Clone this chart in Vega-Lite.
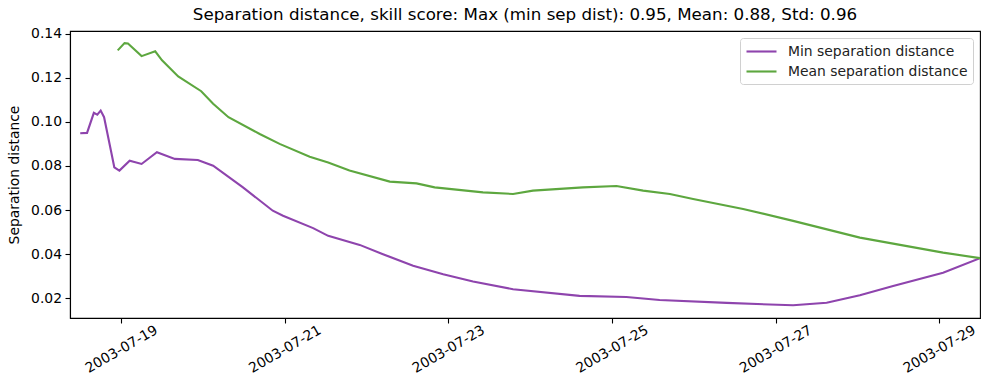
{
  "$schema": "https://vega.github.io/schema/vega-lite/v6.json",
  "autosize": "none",
  "width": 910,
  "height": 287,
  "padding": {"left": 70, "top": 31, "right": 9, "bottom": 72},
  "background": "white",
  "config": {
    "font": "DejaVu Sans",
    "view": {"stroke": "black", "strokeWidth": 1.1},
    "axis": {"grid": false, "domainColor": "black", "tickColor": "black", "labelColor": "black", "titleColor": "black", "labelFont": "DejaVu Sans", "titleFont": "DejaVu Sans", "labelFontSize": 13.9, "titleFontSize": 13.9, "titleFontWeight": "normal", "tickSize": 5, "tickWidth": 1.1, "domainWidth": 1.1}
  },
  "title": {"text": "Separation distance, skill score: Max (min sep dist): 0.95, Mean: 0.88, Std: 0.96", "font": "DejaVu Sans", "fontSize": 16.7, "fontWeight": "normal", "color": "black", "anchor": "middle", "frame": "group", "baseline": "alphabetic", "offset": 10, "dy": 20},
  "datasets": {
    "series": [
      {"series": "Min separation distance", "time": "2003-07-18T12:00:00Z", "value": 0.0948},
      {"series": "Min separation distance", "time": "2003-07-18T14:00:00Z", "value": 0.0950},
      {"series": "Min separation distance", "time": "2003-07-18T16:00:00Z", "value": 0.1041},
      {"series": "Min separation distance", "time": "2003-07-18T17:00:00Z", "value": 0.1033},
      {"series": "Min separation distance", "time": "2003-07-18T18:00:00Z", "value": 0.1051},
      {"series": "Min separation distance", "time": "2003-07-18T19:00:00Z", "value": 0.1021},
      {"series": "Min separation distance", "time": "2003-07-18T21:00:00Z", "value": 0.0870},
      {"series": "Min separation distance", "time": "2003-07-18T22:00:00Z", "value": 0.0794},
      {"series": "Min separation distance", "time": "2003-07-18T23:30:00Z", "value": 0.0779},
      {"series": "Min separation distance", "time": "2003-07-19T02:30:00Z", "value": 0.0824},
      {"series": "Min separation distance", "time": "2003-07-19T06:00:00Z", "value": 0.0809},
      {"series": "Min separation distance", "time": "2003-07-19T10:30:00Z", "value": 0.0862},
      {"series": "Min separation distance", "time": "2003-07-19T15:45:00Z", "value": 0.0832},
      {"series": "Min separation distance", "time": "2003-07-19T22:30:00Z", "value": 0.0827},
      {"series": "Min separation distance", "time": "2003-07-20T03:00:00Z", "value": 0.0801},
      {"series": "Min separation distance", "time": "2003-07-20T11:45:00Z", "value": 0.0703},
      {"series": "Min separation distance", "time": "2003-07-20T20:30:00Z", "value": 0.0597},
      {"series": "Min separation distance", "time": "2003-07-20T23:30:00Z", "value": 0.0574},
      {"series": "Min separation distance", "time": "2003-07-21T08:20:00Z", "value": 0.0518},
      {"series": "Min separation distance", "time": "2003-07-21T12:45:00Z", "value": 0.0483},
      {"series": "Min separation distance", "time": "2003-07-21T22:00:00Z", "value": 0.0442},
      {"series": "Min separation distance", "time": "2003-07-22T04:50:00Z", "value": 0.0400},
      {"series": "Min separation distance", "time": "2003-07-22T13:40:00Z", "value": 0.0347},
      {"series": "Min separation distance", "time": "2003-07-22T22:30:00Z", "value": 0.0309},
      {"series": "Min separation distance", "time": "2003-07-23T07:15:00Z", "value": 0.0276},
      {"series": "Min separation distance", "time": "2003-07-23T19:00:00Z", "value": 0.0241},
      {"series": "Min separation distance", "time": "2003-07-24T14:30:00Z", "value": 0.0211},
      {"series": "Min separation distance", "time": "2003-07-25T04:15:00Z", "value": 0.0206},
      {"series": "Min separation distance", "time": "2003-07-25T14:00:00Z", "value": 0.0192},
      {"series": "Min separation distance", "time": "2003-07-26T09:40:00Z", "value": 0.0179},
      {"series": "Min separation distance", "time": "2003-07-27T05:10:00Z", "value": 0.0168},
      {"series": "Min separation distance", "time": "2003-07-27T15:00:00Z", "value": 0.0180},
      {"series": "Min separation distance", "time": "2003-07-28T00:45:00Z", "value": 0.0214},
      {"series": "Min separation distance", "time": "2003-07-28T10:30:00Z", "value": 0.0256},
      {"series": "Min separation distance", "time": "2003-07-29T01:10:00Z", "value": 0.0316},
      {"series": "Min separation distance", "time": "2003-07-29T12:00:00Z", "value": 0.0382},
      {"series": "Mean separation distance", "time": "2003-07-18T23:00:00Z", "value": 0.1324},
      {"series": "Mean separation distance", "time": "2003-07-19T01:00:00Z", "value": 0.1357},
      {"series": "Mean separation distance", "time": "2003-07-19T02:00:00Z", "value": 0.1355},
      {"series": "Mean separation distance", "time": "2003-07-19T06:00:00Z", "value": 0.1298},
      {"series": "Mean separation distance", "time": "2003-07-19T10:00:00Z", "value": 0.1320},
      {"series": "Mean separation distance", "time": "2003-07-19T12:00:00Z", "value": 0.1279},
      {"series": "Mean separation distance", "time": "2003-07-19T16:45:00Z", "value": 0.1206},
      {"series": "Mean separation distance", "time": "2003-07-19T23:30:00Z", "value": 0.1139},
      {"series": "Mean separation distance", "time": "2003-07-20T03:00:00Z", "value": 0.1082},
      {"series": "Mean separation distance", "time": "2003-07-20T07:30:00Z", "value": 0.1021},
      {"series": "Mean separation distance", "time": "2003-07-20T16:40:00Z", "value": 0.0945},
      {"series": "Mean separation distance", "time": "2003-07-20T22:30:00Z", "value": 0.0900},
      {"series": "Mean separation distance", "time": "2003-07-21T07:20:00Z", "value": 0.0842},
      {"series": "Mean separation distance", "time": "2003-07-21T12:45:00Z", "value": 0.0816},
      {"series": "Mean separation distance", "time": "2003-07-21T19:00:00Z", "value": 0.0779},
      {"series": "Mean separation distance", "time": "2003-07-22T06:50:00Z", "value": 0.0729},
      {"series": "Mean separation distance", "time": "2003-07-22T14:40:00Z", "value": 0.0721},
      {"series": "Mean separation distance", "time": "2003-07-22T20:00:00Z", "value": 0.0703},
      {"series": "Mean separation distance", "time": "2003-07-23T10:10:00Z", "value": 0.0680},
      {"series": "Mean separation distance", "time": "2003-07-23T19:00:00Z", "value": 0.0673},
      {"series": "Mean separation distance", "time": "2003-07-24T00:50:00Z", "value": 0.0688},
      {"series": "Mean separation distance", "time": "2003-07-24T15:30:00Z", "value": 0.0703},
      {"series": "Mean separation distance", "time": "2003-07-25T01:20:00Z", "value": 0.0709},
      {"series": "Mean separation distance", "time": "2003-07-25T09:10:00Z", "value": 0.0688},
      {"series": "Mean separation distance", "time": "2003-07-25T17:00:00Z", "value": 0.0673},
      {"series": "Mean separation distance", "time": "2003-07-25T23:50:00Z", "value": 0.0650},
      {"series": "Mean separation distance", "time": "2003-07-26T14:30:00Z", "value": 0.0605},
      {"series": "Mean separation distance", "time": "2003-07-27T05:10:00Z", "value": 0.0551},
      {"series": "Mean separation distance", "time": "2003-07-28T00:45:00Z", "value": 0.0475},
      {"series": "Mean separation distance", "time": "2003-07-29T01:10:00Z", "value": 0.0407},
      {"series": "Mean separation distance", "time": "2003-07-29T12:00:00Z", "value": 0.0382}
    ]
  },
  "data": {"name": "series"},
  "mark": {"type": "line", "strokeWidth": 2.1, "clip": true},
  "encoding": {
    "x": {
      "field": "time", "type": "temporal",
      "scale": {"type": "utc", "domain": [{"year": 2003, "month": 7, "date": 18, "hours": 9, "utc": true}, {"year": 2003, "month": 7, "date": 29, "hours": 12, "utc": true}]},
      "axis": {
        "title": null,
        "labelExpr": "utcFormat(datum.value, '%Y-%m-%d')",
        "values": [
          {"year": 2003, "month": 7, "date": 19, "utc": true},
          {"year": 2003, "month": 7, "date": 21, "utc": true},
          {"year": 2003, "month": 7, "date": 23, "utc": true},
          {"year": 2003, "month": 7, "date": 25, "utc": true},
          {"year": 2003, "month": 7, "date": 27, "utc": true},
          {"year": 2003, "month": 7, "date": 29, "utc": true}
        ],
        "labelAngle": -30, "labelAlign": "center", "labelBaseline": "middle", "labelPadding": 26, "labelFlush": false, "labelOverlap": false, "labelBound": false
      }
    },
    "y": {
      "field": "value", "type": "quantitative",
      "scale": {"domain": [0.01105, 0.1412], "nice": false, "zero": false},
      "axis": {"title": "Separation distance", "values": [0.02, 0.04, 0.06, 0.08, 0.10, 0.12, 0.14], "format": ".2f", "labelPadding": 3.5, "titlePadding": 9}
    },
    "color": {
      "field": "series", "type": "nominal",
      "scale": {"domain": ["Min separation distance", "Mean separation distance"], "range": ["#8e44ad", "#5da73f"]},
      "legend": {
        "title": null, "orient": "top-right", "offset": 7,
        "strokeColor": "#d0d0d0", "fillColor": "rgba(255,255,255,0.8)", "cornerRadius": 3, "padding": 5,
        "labelFont": "DejaVu Sans", "labelFontSize": 13.9, "labelColor": "#222222", "labelLimit": 400,
        "symbolType": "M-2.143,0H2.143", "symbolSize": 196, "symbolStrokeWidth": 2.1, "symbolOffset": 8, "labelOffset": 18, "rowPadding": 4
      }
    }
  }
}
